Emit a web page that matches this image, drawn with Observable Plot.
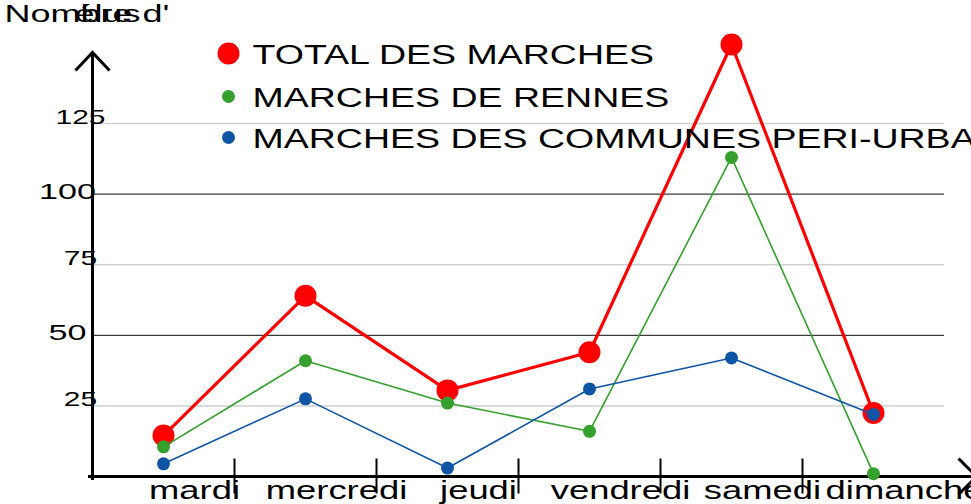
<!DOCTYPE html>
<html><head><meta charset="utf-8">
<script src="https://cdn.jsdelivr.net/npm/d3@7"></script>
<script src="https://cdn.jsdelivr.net/npm/@observablehq/plot@0.6"></script>
<style>html,body{margin:0;padding:0;background:#fff;overflow:hidden}</style>
</head><body><div id="chart"></div>
<script>
// ---- data ----
const days = ["mardi", "mercredi", "jeudi", "vendredi", "samedi", "dimanche"];
const seriesNames = ["TOTAL DES MARCHES", "MARCHES DE RENNES", "MARCHES DES COMMUNES PERI-URBAINES"];
const total = [14.5, 64, 30.5, 44, 153, 22.5];
const rennes = [10.5, 41, 26, 16, 113, 1];
const communes = [4.5, 27.5, 3, 31, 42, 22];
const majorTicks = [50, 100];
const minorTicks = [25, 75, 125];
const titleParts = ["Nombre d'", "élus"];
const colors = ["#ff0000", "#35a02d", "#0f55a6"];

// ---- helpers ----
const rows = vals => vals.map((v, i) => ({day: days[i], i, v}));
const pos = d => d.i + 0.5;
const vtick = {draw(ctx) { ctx.moveTo(0, -18); ctx.lineTo(0, 17); }};
const chevUp = {draw(ctx) { ctx.moveTo(-17, 18); ctx.lineTo(0, 0); ctx.lineTo(17, 18); }};
const chevRight = {draw(ctx) { ctx.moveTo(-18, -18); ctx.lineTo(0, 0); ctx.lineTo(-18, 18); }};
const legendLayout = [{dy: 33, r: 11, ty: 43}, {dy: 76, r: 6.5, ty: 86}, {dy: 117, r: 6.5, ty: 127}];
const seriesStyle = [{w: 3.2, r: 11}, {w: 1.6, r: 6.5}, {w: 1.6, r: 6.5}];
const seriesData = [total, rennes, communes];

const dataMarks = seriesData.flatMap((vals, k) => [
  Plot.line(rows(vals), {x: pos, y: "v", stroke: colors[k], strokeWidth: seriesStyle[k].w, strokeLinejoin: "round"}),
  Plot.dot(rows(vals), {x: pos, y: "v", r: seriesStyle[k].r, fill: colors[k]})
]);

const legendMarks = seriesNames.flatMap((name, k) => [
  Plot.dot([name], {frameAnchor: "top-left", dx: 136, dy: legendLayout[k].dy, r: legendLayout[k].r, fill: colors[k]}),
  Plot.text([name], {frameAnchor: "top-left", text: d => d, dx: 160, dy: legendLayout[k].ty, lineAnchor: "bottom", textAnchor: "start", fontSize: 28, fill: "black", ariaDescription: "legend"})
]);

const svg = Plot.plot({
  width: 971,
  height: 504,
  marginLeft: 92,
  marginRight: 27,
  marginTop: 20,
  marginBottom: 28,
  style: {fontFamily: "Liberation Sans, Arial, sans-serif", background: "white", overflow: "hidden"},
  x: {type: "linear", domain: [0, days.length], axis: null},
  y: {type: "linear", domain: [0, 161.5], axis: null},
  marks: [
    Plot.ruleY(minorTicks, {stroke: "#cfcfcf", strokeWidth: 1.5}),
    Plot.ruleY(majorTicks, {stroke: "#3a3a3a", strokeWidth: 1.2}),
    Plot.ruleY([0], {stroke: "black", strokeWidth: 3, insetLeft: -4, insetRight: -32}),
    Plot.ruleX([0], {stroke: "black", strokeWidth: 3, insetTop: 32, insetBottom: -4}),
    Plot.dot(d3.range(1, days.length), {x: d => d, y: 0, symbol: vtick, stroke: "black", strokeWidth: 2, fill: "none"}),
    Plot.dot([0], {x: d => d, frameAnchor: "top", dy: 32, symbol: chevUp, stroke: "black", strokeWidth: 3, fill: "none"}),
    Plot.dot([0], {y: d => d, frameAnchor: "right", dx: 32, symbol: chevRight, stroke: "black", strokeWidth: 3, fill: "none"}),
    Plot.text(minorTicks, {y: d => d, text: d => String(d), frameAnchor: "left", dx: -12, textAnchor: "middle", lineAnchor: "bottom", fontSize: 20, fill: "black", ariaDescription: "ytick-minor"}),
    Plot.text(majorTicks, {y: d => d, text: d => String(d), frameAnchor: "left", dx: -25, dy: 5, textAnchor: "middle", lineAnchor: "bottom", fontSize: 22, fill: "black", ariaDescription: "ytick-major"}),
    Plot.text(days, {x: (d, i) => i + 0.5, y: 0, text: d => d, dx: 31, dy: 22, lineAnchor: "bottom", textAnchor: "middle", fontSize: 26, fill: "black", ariaDescription: "xtick"}),
    Plot.text([titleParts[0]], {frameAnchor: "top-left", text: d => d, dx: -88, dy: 1, lineAnchor: "bottom", textAnchor: "start", fontSize: 24, fill: "black", ariaDescription: "title"}),
    Plot.text([titleParts[1]], {frameAnchor: "top-left", text: d => d, dx: -18, dy: 1, lineAnchor: "bottom", textAnchor: "start", fontSize: 24, fill: "black", ariaDescription: "title"}),
    ...dataMarks,
    ...legendMarks
  ]
});

// horizontal stretch of the text, as in the reference rendering
const stretch = {"title": 1.5, "ytick-major": 1.55, "ytick-minor": 1.5, "xtick": 1.4, "legend": 1.34};
for (const [label, s] of Object.entries(stretch)) {
  svg.querySelectorAll(`g[aria-description="${label}"] text`).forEach(t => {
    const x = parseFloat(t.getAttribute("x")) || 0;
    const tr = t.getAttribute("transform") || "";
    t.setAttribute("transform", `${tr} translate(${x},0) scale(${s},1) translate(${-x},0)`);
  });
}
document.getElementById("chart").appendChild(svg);
</script>
</body></html>
